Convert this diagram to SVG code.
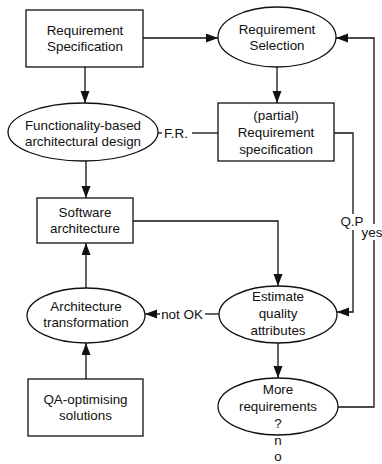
<svg xmlns="http://www.w3.org/2000/svg" width="382" height="464" viewBox="0 0 382 464">
<defs>
<marker id="ah" markerUnits="userSpaceOnUse" markerWidth="13" markerHeight="10" refX="12" refY="4.5" orient="auto">
<path d="M0,0 L12,4.5 L0,9 z" fill="#111"/>
</marker>
<style>
.n{fill:#fff;stroke:#111;stroke-width:1.3}
.c{fill:none;stroke:#111;stroke-width:1.3}
text{font-family:"Liberation Sans",Arial,sans-serif;font-size:13.4px;fill:#111;text-anchor:middle}
</style>
</defs>
<rect width="382" height="464" fill="#fff"/>
<g id="connectors">
<path class="c" d="M85,67 V103" marker-end="url(#ah)"/>
<path class="c" d="M143,38 H218" marker-end="url(#ah)"/>
<path class="c" d="M277,67 V103" marker-end="url(#ah)"/>
<path class="c" d="M158,133 H162"/>
<text x="176" y="138">F.R.</text>
<path class="c" d="M192,133 H218"/>
<path class="c" d="M86,161 V198" marker-end="url(#ah)"/>
<path class="c" d="M133,221 H278 V286" marker-end="url(#ah)"/>
<path class="c" d="M334,133 H353 V214"/>
<text x="352" y="226">Q.P</text>
<path class="c" d="M353,230 V312 H337" marker-end="url(#ah)"/>
<path class="c" d="M219,314 H205"/>
<text x="182" y="319">not OK</text>
<path class="c" d="M160,314 H145" marker-end="url(#ah)"/>
<path class="c" d="M86,288 V243" marker-end="url(#ah)"/>
<path class="c" d="M86,379 V343" marker-end="url(#ah)"/>
<path class="c" d="M278,343 V378" marker-end="url(#ah)"/>
<path class="c" d="M338,407 H374 V240"/>
<text x="372" y="237">yes</text>
<path class="c" d="M374,224 V38 H336" marker-end="url(#ah)"/>
</g>
<g id="req-spec">
<rect class="n" x="26" y="10" width="117" height="57"/>
<text x="85" y="35">Requirement</text>
<text x="85" y="51">Specification</text>
</g>
<g id="req-selection">
<ellipse class="n" cx="277" cy="37" rx="59" ry="30"/>
<text x="277" y="34">Requirement</text>
<text x="277" y="50">Selection</text>
</g>
<g id="functionality-design">
<ellipse class="n" cx="83" cy="132" rx="75" ry="29"/>
<text x="83" y="130">Functionality-based</text>
<text x="83" y="146">architectural design</text>
</g>
<g id="partial-spec">
<rect class="n" x="218" y="103" width="116" height="58"/>
<text x="276" y="120">(partial)</text>
<text x="276" y="137">Requirement</text>
<text x="276" y="154">specification</text>
</g>
<g id="software-architecture">
<rect class="n" x="37" y="198" width="96" height="45"/>
<text x="85" y="217">Software</text>
<text x="85" y="233">architecture</text>
</g>
<g id="estimate">
<ellipse class="n" cx="278" cy="314.5" rx="59" ry="28.5"/>
<text x="278" y="301">Estimate</text>
<text x="278" y="318">quality</text>
<text x="278" y="335">attributes</text>
</g>
<g id="arch-transformation">
<ellipse class="n" cx="86" cy="315.5" rx="59" ry="27.5"/>
<text x="86" y="311">Architecture</text>
<text x="86" y="327">transformation</text>
</g>
<g id="qa-solutions">
<rect class="n" x="28" y="379" width="115" height="57"/>
<text x="85.5" y="404">QA-optimising</text>
<text x="85.5" y="420">solutions</text>
</g>
<g id="more-requirements">
<ellipse class="n" cx="278" cy="406.5" rx="60" ry="28.5"/>
<text x="278" y="394">More</text>
<text x="278" y="411">requirements</text>
<text x="278" y="428">?</text>
<text x="278" y="445">n</text>
<text x="278" y="461">o</text>
</g>
</svg>
